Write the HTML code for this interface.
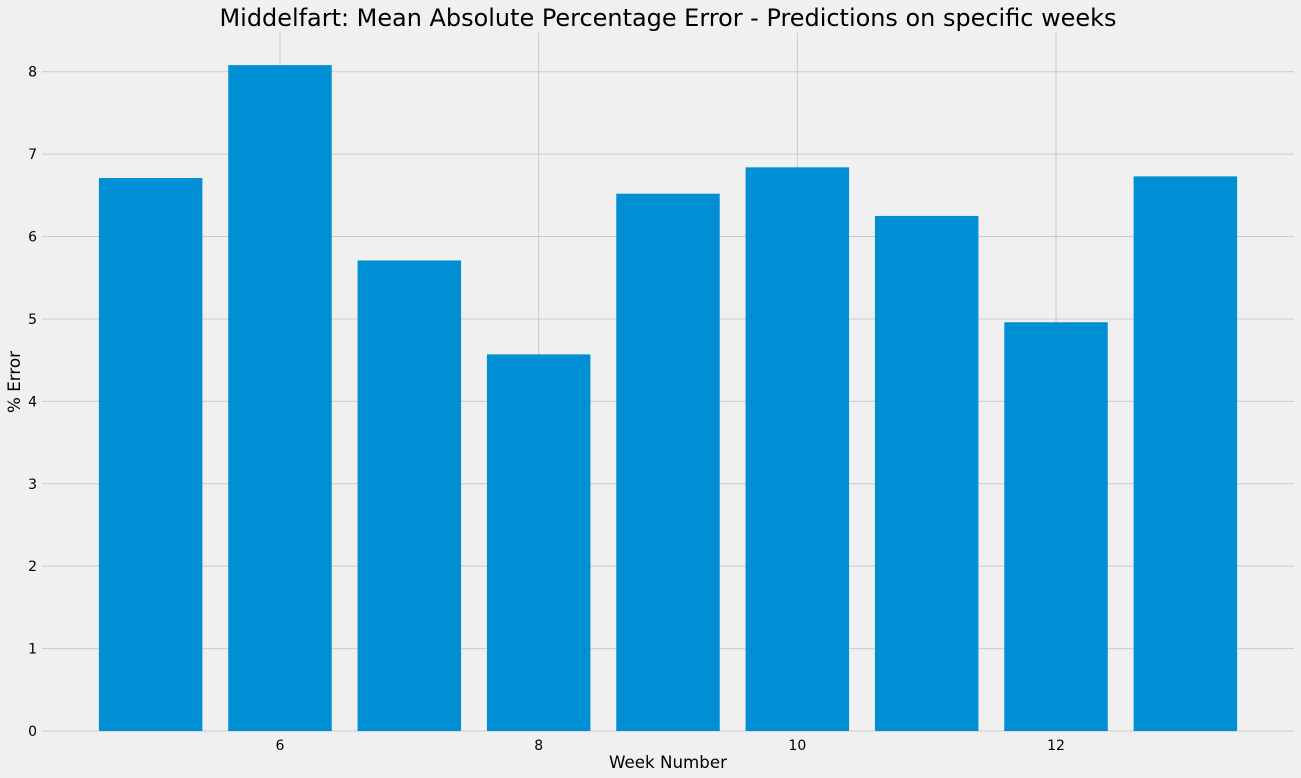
<!DOCTYPE html>
<html><head><meta charset="utf-8"><style>
html,body{margin:0;padding:0;background:#f0f0f0;}
svg{display:block;font-family:"DejaVu Sans","Liberation Sans",sans-serif;}
</style></head><body>
<svg id="chart" width="1301" height="778">
<rect width="1301" height="778" fill="#f0f0f0"/>
<g id="grid"></g><g id="bars"></g><g id="ticks"></g>
<text x="668" y="26" font-size="24" text-anchor="middle" fill="#000" textLength="897" lengthAdjust="spacingAndGlyphs">Middelfart: Mean Absolute Percentage Error - Predictions on specific weeks</text>
<text x="668" y="768" font-size="17" text-anchor="middle" fill="#000" textLength="118" lengthAdjust="spacingAndGlyphs">Week Number</text>
<text transform="translate(20,382) rotate(-90)" font-size="17" text-anchor="middle" fill="#000" textLength="62" lengthAdjust="spacingAndGlyphs">% Error</text>
</svg>
<script>
const weeks = [5,6,7,8,9,10,11,12,13];
const errors = [6.71,8.08,5.71,4.57,6.52,6.84,6.25,4.96,6.73];
const xTicks = [6,8,10,12];
const yTicks = [0,1,2,3,4,5,6,7,8];
const NS='http://www.w3.org/2000/svg';
const xMin=4.16,xMax=13.84,yMax=8.47;
const L=42,R=1294,T=33,B=731;
const xs=v=>L+(v-xMin)/(xMax-xMin)*(R-L);
const ys=v=>B-v/yMax*(B-T);
function mk(tag,attrs,parent){const e=document.createElementNS(NS,tag);for(const k in attrs)e.setAttribute(k,attrs[k]);document.getElementById(parent).appendChild(e);return e;}
yTicks.forEach(t=>{
 const l=mk('line',{x1:L,x2:R,y1:ys(t),y2:ys(t),stroke:'#cbcbcb','stroke-width':1},'grid');
 
 
 const tx=mk('text',{x:37,y:ys(t)+5,'font-size':14,'text-anchor':'end',fill:'#000'},'ticks');
 tx.textContent=t;
 
 
});
xTicks.forEach(t=>{
 const l=mk('line',{x1:xs(t),x2:xs(t),y1:T,y2:B,stroke:'#cbcbcb','stroke-width':1},'grid');
 
 
 const tx=mk('text',{x:xs(t),y:B+19,'font-size':14,'text-anchor':'middle',fill:'#000'},'ticks');
 tx.textContent=t;
 
 
});
const bw=xs(0.8)-xs(0);
weeks.forEach((w,i)=>{
 const r=mk('rect',{x:xs(w)-bw/2,y:ys(errors[i]),width:bw,height:ys(0)-ys(errors[i]),fill:'#008fd5'},'bars');
 
 
});
</script>
</body></html>
